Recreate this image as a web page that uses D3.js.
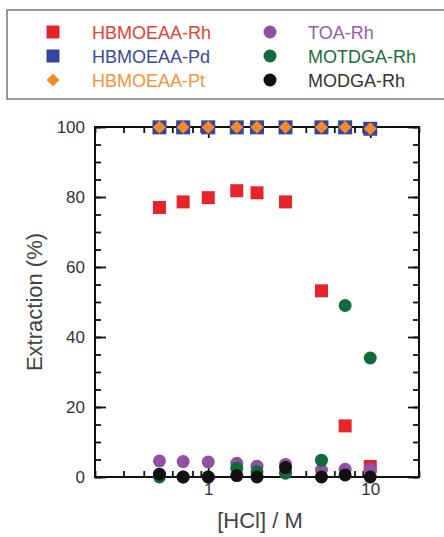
<!DOCTYPE html>
<html>
<head>
<meta charset="utf-8">
<script src="https://cdn.jsdelivr.net/npm/d3@7"></script>
<style>
  body { margin: 0; background: #fff; }
  svg { display: block; font-family: "Liberation Sans", Arial, sans-serif; }
</style>
</head>
<body>
<div id="chart"></div>
<script>
// data
const hcl = [0.5, 0.7, 1, 1.5, 2, 3, 5, 7, 10]
const hbRh = [77, 78.6, 79.8, 81.8, 81.2, 78.6, 53.2, 14.6, 3]
const hbPd = [99.9, 99.9, 99.9, 99.9, 99.9, 99.9, 99.9, 99.9, 99.5]
const hbPt = [99.9, 99.9, 99.9, 99.9, 99.9, 99.9, 99.9, 99.9, 99.5]
const toaRh = [4.6, 4.4, 4.3, 3.9, 3.1, 3.6, 2.0, 2.2, 2.2]
const motdgaRh = [0, 0, 0, 2.5, 1.5, 1.1, 4.8, 49, 34]
const modgaRh = [0.8, 0, 0, 0.4, 0, 2.7, 0, 0.6, 0]

const yMajor = [0, 20, 40, 60, 80, 100]
const yMinor = d3.range(0, 101, 5)
const xMajor = [1, 10]
const xMinor = [0.2, 0.3, 0.4, 0.5, 0.6, 0.7, 0.8, 0.9, 2, 3, 4, 5, 6, 7, 8, 9, 20]

const width = 444, height = 537
const plotLeft = 95, plotRight = 419, plotTop = 127, plotBottom = 477

const svg = d3.select('#chart').append('svg')
  .attr('width', width)
  .attr('height', height)

const x = d3.scaleLog().domain([0.2, 20]).range([plotLeft, plotRight])
const y = d3.scaleLinear().domain([0, 100]).range([plotBottom, plotTop])

// legend box
svg.append('rect')
  .attr('x', 7).attr('y', 10)
  .attr('width', 460).attr('height', 89)
  .attr('fill', 'none')
  .attr('stroke', '#777')
  .attr('stroke-width', 1.5)

const series = [
  {name: 'HBMOEAA-Rh', vals: hbRh, shape: 'square', fill: '#e6242b', text: '#e8412f', col: 0, row: 0},
  {name: 'HBMOEAA-Pd', vals: hbPd, shape: 'bigsquare', fill: '#35479d', text: '#3a4a9c', col: 0, row: 1},
  {name: 'HBMOEAA-Pt', vals: hbPt, shape: 'diamond', fill: '#f5892b', text: '#f7923a', col: 0, row: 2},
  {name: 'TOA-Rh', vals: toaRh, shape: 'circle', fill: '#9150a5', text: '#9a5aad', col: 1, row: 0},
  {name: 'MOTDGA-Rh', vals: motdgaRh, shape: 'circle', fill: '#0f6b3a', text: '#1c6e3c', col: 1, row: 1},
  {name: 'MODGA-Rh', vals: modgaRh, shape: 'circle', fill: '#111', text: '#333', col: 1, row: 2}
]

let drawMark = (g, shape, fill) => {
  if (shape === 'square' || shape === 'bigsquare') {
    let s = shape === 'square' ? 13 : 14
    g.append('rect').attr('x', -s / 2).attr('y', -s / 2)
      .attr('width', s).attr('height', s).attr('fill', fill)
  } else if (shape === 'diamond') {
    g.append('path').attr('d', 'M0,-6.5L6.5,0L0,6.5L-6.5,0Z').attr('fill', fill)
  } else {
    g.append('circle').attr('r', 6.5).attr('fill', fill)
  }
}

// legend entries
series.forEach(s => {
  let mx = s.col === 0 ? 53 : 270
  let tx = s.col === 0 ? 92 : 308
  let ly = 32 + s.row * 24
  let g = svg.append('g').attr('transform', `translate(${mx},${ly})`)
  let shp = s.shape === 'bigsquare' ? 'square' : s.shape
  drawMark(g, shp, s.fill)
  svg.append('text')
    .attr('x', tx).attr('y', ly + 6.5)
    .attr('font-size', 18)
    .attr('fill', s.text)
    .text(s.name)
})

// axes: ticks point inward
let axisStyle = g => {
  g.select('.domain').remove()
  g.selectAll('line').attr('stroke', '#111').attr('stroke-width', 1.8)
  g.selectAll('text').attr('font-size', 17).attr('fill', '#333')
    .attr('font-family', '"Liberation Sans", Arial, sans-serif')
}

svg.append('g').attr('transform', `translate(${plotLeft},0)`)
  .call(d3.axisLeft(y).tickValues(yMinor).tickSize(-6).tickFormat(''))
  .call(axisStyle)
svg.append('g').attr('transform', `translate(${plotLeft},0)`)
  .call(d3.axisLeft(y).tickValues(yMajor).tickSize(-11).tickPadding(10).tickFormat(d3.format('d')))
  .call(axisStyle)
svg.append('g').attr('transform', `translate(${plotRight},0)`)
  .call(d3.axisRight(y).tickValues(yMinor).tickSize(-6).tickFormat(''))
  .call(axisStyle)
svg.append('g').attr('transform', `translate(${plotRight},0)`)
  .call(d3.axisRight(y).tickValues(yMajor).tickSize(-11).tickFormat(''))
  .call(axisStyle)

svg.append('g').attr('transform', `translate(0,${plotBottom})`)
  .call(d3.axisBottom(x).tickValues(xMinor).tickSize(-6).tickFormat(''))
  .call(axisStyle)
svg.append('g').attr('transform', `translate(0,${plotBottom})`)
  .call(d3.axisBottom(x).tickValues(xMajor).tickSize(-11).tickPadding(6).tickFormat(d3.format('d')))
  .call(axisStyle)
svg.append('g').attr('transform', `translate(0,${plotTop})`)
  .call(d3.axisTop(x).tickValues(xMinor).tickSize(-6).tickFormat(''))
  .call(axisStyle)
svg.append('g').attr('transform', `translate(0,${plotTop})`)
  .call(d3.axisTop(x).tickValues(xMajor).tickSize(-11).tickFormat(''))
  .call(axisStyle)

// frame
svg.append('rect')
  .attr('x', plotLeft).attr('y', plotTop)
  .attr('width', plotRight - plotLeft).attr('height', plotBottom - plotTop)
  .attr('fill', 'none')
  .attr('stroke', '#111')
  .attr('stroke-width', 2)

// axis titles
svg.append('text')
  .attr('x', 260).attr('y', 528)
  .attr('text-anchor', 'middle')
  .attr('font-size', 22)
  .attr('fill', '#444')
  .text('[HCl] / M')

svg.append('text')
  .attr('transform', 'translate(42,302) rotate(-90)')
  .attr('text-anchor', 'middle')
  .attr('font-size', 22)
  .attr('fill', '#444')
  .text('Extraction (%)')

// points: draw order so overlaps match
const order = [0, 3, 4, 5, 1, 2]
order.forEach(i => {
  let s = series[i]
  svg.append('g').selectAll('g')
    .data(hcl.map((h, j) => ({h: h, v: s.vals[j]})))
    .enter()
    .append('g')
    .attr('transform', d => `translate(${x(d.h)},${y(d.v)})`)
    .each(function () { drawMark(d3.select(this), s.shape, s.fill) })
})
</script>
</body>
</html>
